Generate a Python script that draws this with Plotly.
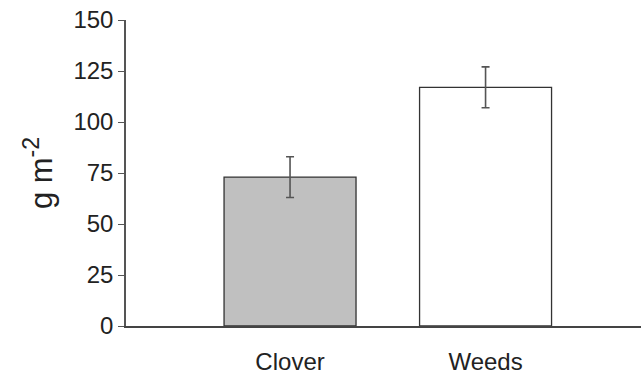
import plotly.graph_objects as go

categories = ["Clover", "Weeds"]
values = [73, 117]
errors = [10, 10]
fill_colors = ["#c0c0c0", "#ffffff"]
y_ticks = [0, 25, 50, 75, 100, 125, 150]

fig = go.Figure()
fig.add_trace(go.Bar(
    x=[0, 1], y=values,
    width=0.675,
    marker=dict(color=fill_colors, line=dict(color="#333333", width=1.3)),
    error_y=dict(type="data", array=errors, visible=True,
                 color="#555555", thickness=1.6, width=4),
))

fig.update_layout(
    width=641, height=374,
    margin=dict(l=126, r=0, t=20, b=48),
    paper_bgcolor="white", plot_bgcolor="white",
    showlegend=False,
    font=dict(family="Liberation Sans, Arial, sans-serif", color="#222222"),
    xaxis=dict(
        range=[-0.839, 1.795],
        tickmode="array", tickvals=[0, 1], ticktext=categories,
        showline=True, linecolor="#444444", linewidth=1.5,
        ticks="", showgrid=False, zeroline=False,
        tickfont=dict(size=24),
        ticklabelstandoff=13,
    ),
    yaxis=dict(
        range=[0, 150],
        tickmode="array", tickvals=y_ticks,
        showline=True, linecolor="#555555", linewidth=1.5,
        ticks="outside", ticklen=6, tickcolor="#555555", tickwidth=1.2,
        showgrid=False, zeroline=False,
        tickfont=dict(size=24),
        title=dict(text="g m<sup><span style='font-size:23px'>-2</span></sup>",
                   font=dict(size=31), standoff=12),
    ),
)

fig.write_html("out.html")
